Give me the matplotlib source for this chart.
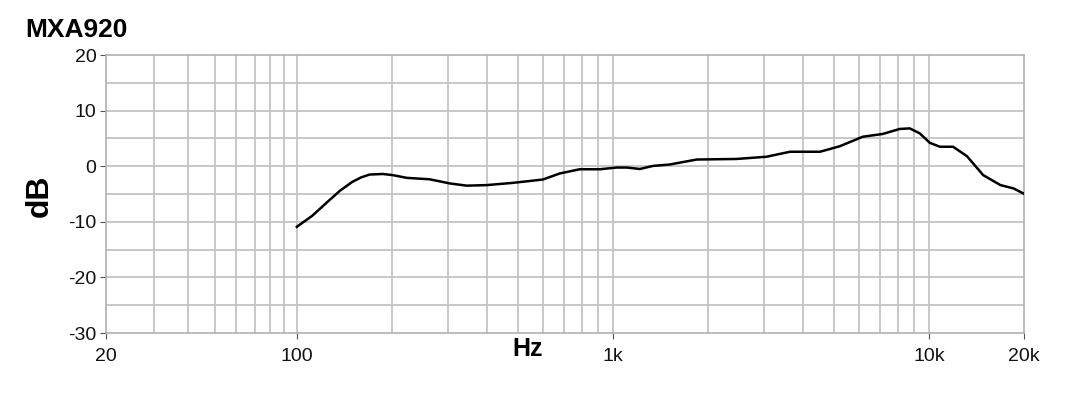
import numpy as np
import matplotlib.pyplot as plt
from matplotlib.ticker import FixedLocator, NullLocator

# frequency response (Hz, dB)
freq = [100, 112, 124, 137, 150, 160, 170, 187, 201, 223, 263, 305, 345, 399,
        482, 600, 680, 786, 910, 1029, 1108, 1218, 1339, 1511, 1843, 2460,
        3063, 3637, 4525, 5230, 6178, 7148, 8087, 8700, 9360, 10070, 10840,
        11930, 13200, 14850, 16850, 18540, 19900]
db = [-10.9, -8.9, -6.6, -4.4, -2.8, -2.0, -1.5, -1.4, -1.6, -2.1, -2.35,
      -3.1, -3.5, -3.4, -3.0, -2.4, -1.3, -0.55, -0.55, -0.24, -0.24, -0.5,
      0.05, 0.3, 1.2, 1.3, 1.7, 2.6, 2.6, 3.6, 5.3, 5.8, 6.7, 6.8, 5.9, 4.2,
      3.5, 3.5, 1.8, -1.6, -3.4, -4.0, -4.9]

xticks = [20, 100, 1000, 10000, 20000]
xticklabels = ['20', '100', '1k', '10k', '20k']
yticks = [-30, -20, -10, 0, 10, 20]
xgrid = [30, 40, 50, 60, 70, 80, 90, 100, 200, 300, 400, 500, 600, 700, 800,
         900, 1000, 2000, 3000, 4000, 5000, 6000, 7000, 8000, 9000, 10000]
ygrid = [-25, -20, -15, -10, -5, 0, 5, 10, 15]

# the source chart squeezes the 20-100 Hz span a little
K = 273 / 316.0


def fwd(x):
    lx = np.log10(np.clip(x, 1e-6, None))
    return np.where(lx < 2, 2 + (lx - 2) * K, lx)


def inv(y):
    return np.where(y < 2, 10 ** (2 + (y - 2) / K), 10 ** y)


plt.rcParams['font.family'] = ['Liberation Sans', 'DejaVu Sans']
plt.rcParams['axes.unicode_minus'] = False

fig = plt.figure(figsize=(10.7, 4), dpi=100)
ax = fig.add_axes([106 / 1070, 1 - 333 / 400, 918 / 1070, 278 / 400])
ax.set_xscale('function', functions=(fwd, inv))
ax.set_xlim(20, 20000)
ax.set_ylim(-30, 20)

for g in xgrid:
    ax.axvline(g, color='#c4c4c4', lw=1.3, zorder=0)
for g in ygrid:
    ax.axhline(g, color='#c4c4c4', lw=1.3, zorder=0)

ax.plot(freq, db, color='black', lw=1.8, zorder=3, solid_joinstyle='round')

ax.xaxis.set_major_locator(FixedLocator(xticks))
ax.xaxis.set_minor_locator(NullLocator())
ax.set_xticklabels(xticklabels)
ax.set_yticks(yticks)
ax.tick_params(axis='both', length=4, width=0.8, color='#555555',
               labelsize=14, labelcolor='#111111', pad=3)
ax.tick_params(axis='x', pad=7)
for s in ax.spines.values():
    s.set_color('#b0b0b0')
    s.set_linewidth(1.2)

fig.text(25 / 1070, 1 - 30 / 400, 'MXA920', fontsize=19, fontweight='bold',
         va='center', ha='left')
fig.text(40 / 1070, 1 - 196 / 400, 'dB', fontsize=23, fontweight='bold',
         rotation=90, va='center', ha='center')
fig.text(528 / 1070, 1 - 349 / 400, 'Hz', fontsize=18, fontweight='bold',
         va='center', ha='center')

plt.savefig('out.png', dpi=100)
